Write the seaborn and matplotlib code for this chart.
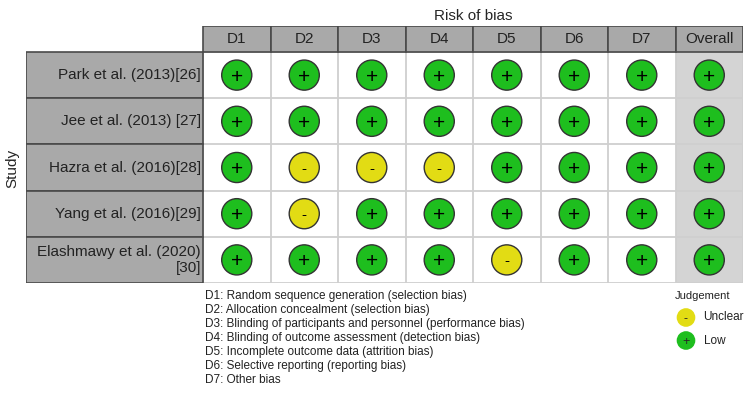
import numpy as np
import pandas as pd
import matplotlib
matplotlib.use("Agg")
import matplotlib.pyplot as plt
from matplotlib.patches import Rectangle
import seaborn as sns

sns.set_style("white")
plt.rcParams['font.family'] = ['Liberation Sans', 'DejaVu Sans']

# Data
studies = ["Park et al. (2013)[26]", "Jee et al. (2013) [27]", "Hazra et al. (2016)[28]",
           "Yang et al. (2016)[29]", "Elashmawy et al. (2020)\n[30]"]
domains = ["D1", "D2", "D3", "D4", "D5", "D6", "D7", "Overall"]
judgements = [
    ["Low", "Low", "Low", "Low", "Low", "Low", "Low", "Low"],
    ["Low", "Low", "Low", "Low", "Low", "Low", "Low", "Low"],
    ["Low", "Unclear", "Unclear", "Unclear", "Low", "Low", "Low", "Low"],
    ["Low", "Unclear", "Low", "Low", "Low", "Low", "Low", "Low"],
    ["Low", "Low", "Low", "Low", "Unclear", "Low", "Low", "Low"],
]
domain_notes = [
    "D1: Random sequence generation (selection bias)",
    "D2: Allocation concealment (selection bias)",
    "D3: Blinding of participants and personnel (performance bias)",
    "D4: Blinding of outcome assessment (detection bias)",
    "D5: Incomplete outcome data (attrition bias)",
    "D6: Selective reporting (reporting bias)",
    "D7: Other bias",
]
levels = ["Unclear", "Low"]
colors = {"Low": "#1EBE1E", "Unclear": "#E2DC14"}
symbols = {"Low": "+", "Unclear": "-"}

rows = []
for i, s in enumerate(studies):
    for j, d in enumerate(domains):
        rows.append({"Study": s, "Domain": d, "x": j, "y": i, "Judgement": judgements[i][j]})
df = pd.DataFrame(rows)

W, H = 750, 420
fig = plt.figure(figsize=(7.5, 4.2), dpi=100)

# grid area in pixels: left 26, right 743, top 26, bottom 283
left_px, right_px, top_px, bot_px = 26, 743, 26, 283
ax = fig.add_axes([left_px / W, 1 - bot_px / H, (right_px - left_px) / W, (bot_px - top_px) / H])

ncol, nrow = len(domains), len(studies)
col_w = (743 - 203) / ncol
row_h = (283 - 52) / nrow
lab_w = (203 - 26) / col_w
hdr_h = (52 - 26) / row_h

ax.set_xlim(-0.5 - lab_w, ncol - 0.5)
ax.set_ylim(nrow - 0.5, -0.5 - hdr_h)
ax.axis("off")

# overall column background
ax.add_patch(Rectangle((ncol - 1.5, -0.5), 1, nrow, facecolor="#d4d4d4", edgecolor="none", zorder=0))
# light grid
for j in range(ncol + 1):
    ax.plot([j - 0.5, j - 0.5], [-0.5, nrow - 0.5], color="#cfcfcf", lw=1.3, zorder=1)
for i in range(nrow + 1):
    ax.plot([-0.5, ncol - 0.5], [i - 0.5, i - 0.5], color="#cfcfcf", lw=1.3, zorder=1)

# header cells
for j, d in enumerate(domains):
    ax.add_patch(Rectangle((j - 0.5, -0.5 - hdr_h), 1, hdr_h, facecolor="#a9a9a9",
                           edgecolor="#4a4a4a", lw=1.2, zorder=2))
    ax.text(j, -0.5 - hdr_h / 2, d, ha="center", va="center", fontsize=11, color="#222222", zorder=3)

# study label cells
for i, s in enumerate(studies):
    ax.add_patch(Rectangle((-0.5 - lab_w, i - 0.5), lab_w, 1, facecolor="#a9a9a9",
                           edgecolor="#4a4a4a", lw=1.2, zorder=2))
    ax.text(-0.53, i, s, ha="right", va="center", fontsize=11, color="#222222", zorder=3,
            multialignment="right")

# judgement circles
sns.scatterplot(data=df, x="x", y="y", hue="Judgement", palette=colors, s=470,
                edgecolor="#333333", linewidth=1, legend=False, ax=ax, zorder=4)
for _, r in df.iterrows():
    ax.text(r["x"], r["y"], symbols[r["Judgement"]], ha="center", va="center_baseline",
            fontsize=15 if r["Judgement"] == "Low" else 11, color="black", zorder=5)

fig.text((203 + 743) / 2 / W, 1 - 16 / H, "Risk of bias", ha="center", va="center", fontsize=11)
fig.text(12 / W, 1 - 168 / H, "Study", rotation=90, ha="center", va="center", fontsize=11)

# domain descriptions
for k, note in enumerate(domain_notes):
    fig.text(205 / W, 1 - (296 + k * 14) / H, note, ha="left", va="center", fontsize=8.5, color="#222222")

# judgement legend
lax = fig.add_axes([670 / W, 1 - 352 / H, 80 / W, 46 / H])
lax.set_xlim(0, 1)
lax.set_ylim(len(levels) - 0.5, -0.5)
lax.axis("off")
leg_df = pd.DataFrame({"Judgement": levels, "x": [0.2] * len(levels), "y": list(range(len(levels)))})
sns.scatterplot(data=leg_df, x="x", y="y", hue="Judgement", palette=colors, s=180,
                edgecolor="none", legend=False, ax=lax)
for _, r in leg_df.iterrows():
    lax.text(r["x"], r["y"], symbols[r["Judgement"]], ha="center", va="center_baseline", fontsize=9)
    lax.text(0.42, r["y"], r["Judgement"], ha="left", va="center", fontsize=8.5, color="#222222")
fig.text(675 / W, 1 - 296 / H, "Judgement", ha="left", va="center", fontsize=8, color="#222222")

fig.savefig("out.png", dpi=100)
